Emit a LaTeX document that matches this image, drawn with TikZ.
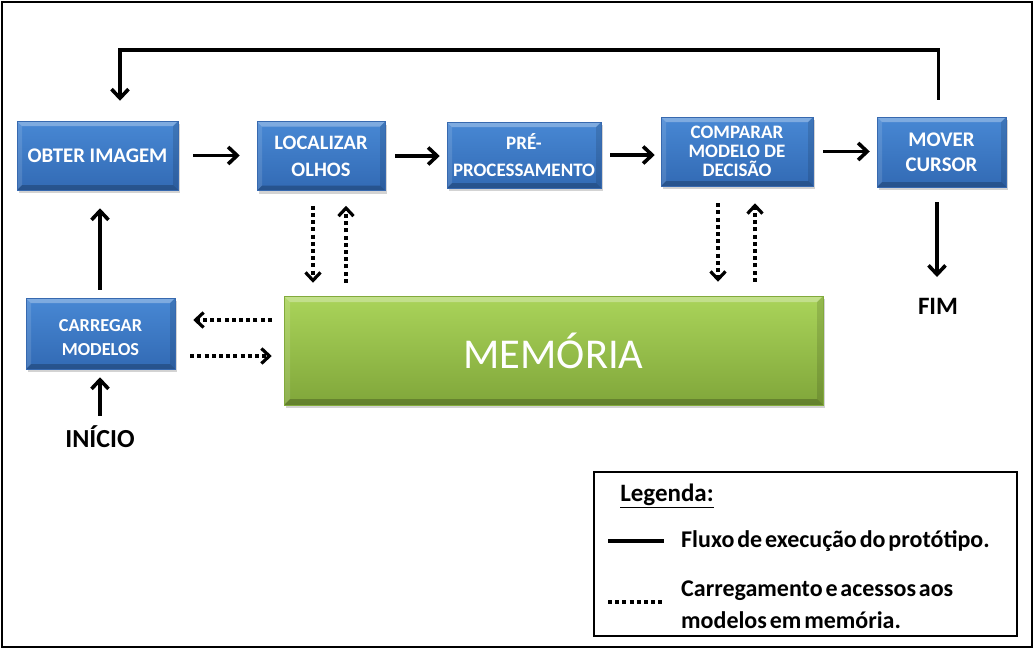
\documentclass[tikz,border=0pt]{standalone}
\usepackage{fontspec}
\setmainfont{Carlito}
\usetikzlibrary{arrows.meta,shadows,calc}
\definecolor{bluetop}{RGB}{72,136,212}
\definecolor{bluebot}{RGB}{50,106,180}
\definecolor{blueedge}{RGB}{55,105,175}
\definecolor{greentop}{RGB}{170,212,90}
\definecolor{greenbot}{RGB}{128,166,58}
\definecolor{greenedge}{RGB}{130,170,60}
\newcommand\tightsp{\spaceskip=0.12em\relax}
\tikzset{
  bevel/.style={path picture={
    \coordinate (bnw) at (path picture bounding box.north west);
    \coordinate (bne) at (path picture bounding box.north east);
    \coordinate (bsw) at (path picture bounding box.south west);
    \coordinate (bse) at (path picture bounding box.south east);
    \fill[white, opacity=0.30] (bnw) -- (bne) -- ($(bne)+(-#1,-#1)$) -- ($(bnw)+(#1,-#1)$) -- cycle;
    \fill[white, opacity=0.12] (bnw) -- ($(bnw)+(#1,-#1)$) -- ($(bsw)+(#1,#1)$) -- (bsw) -- cycle;
    \fill[black, opacity=0.12] (bne) -- ($(bne)+(-#1,-#1)$) -- ($(bse)+(-#1,#1)$) -- (bse) -- cycle;
    \fill[black, opacity=0.22] (bsw) -- ($(bsw)+(#1,#1)$) -- ($(bse)+(-#1,#1)$) -- (bse) -- cycle;
  }},
  bluebox/.style={rectangle, draw=blueedge, line width=0.5pt, top color=bluetop, bottom color=bluebot,
    text=white, align=center, inner sep=0pt, bevel=5pt,
    drop shadow={shadow xshift=2pt, shadow yshift=-3pt, opacity=0.35}},
  greenbox/.style={rectangle, draw=greenedge, line width=0.5pt, top color=greentop, bottom color=greenbot,
    text=white, align=center, inner sep=0pt, bevel=6pt,
    drop shadow={shadow xshift=2pt, shadow yshift=-3pt, opacity=0.35}},
  boxtext/.style={text=white, align=center, inner sep=0pt},
  flow/.style={line width=3.6pt, -{Straight Barb[length=9pt,width=17pt,line width=3.6pt]}},
  memflow/.style={line width=3.6pt, dash pattern=on 4pt off 3.2pt, -{Straight Barb[length=8pt,width=15pt,line width=3.2pt]}},
  plain/.style={font=\bfseries, inner sep=0pt},
  legtext/.style={inner sep=0pt, anchor=west, align=left, font=\bfseries\fontsize{24}{32}\selectfont},
}
\begin{document}
\begin{tikzpicture}[x=1pt,y=-1pt]
\useasboundingbox (0,0) rectangle (1034,649);
\node[draw, line width=1.8pt, minimum width=1030pt, minimum height=645pt, inner sep=0pt] (frame) at (517,324.5) {};

% process boxes
\node[bluebox, minimum width=161pt, minimum height=69pt, font=\bfseries\fontsize{20.8}{25}\selectfont] (obter) at (97.5,155.5) {OBTER IMAGEM};
\node[bluebox, minimum width=128pt, minimum height=69pt, font=\bfseries\fontsize{20.5}{27}\selectfont] (loc) at (321,156) {LOCALIZAR\\OLHOS};
\node[bluebox, minimum width=154pt, minimum height=66pt, font=\bfseries\fontsize{19}{27}\selectfont] (pre) at (524,155) {PRÉ-\\PROCESSAMENTO};
\node[bluebox, minimum width=152pt, minimum height=69pt, font=\bfseries\fontsize{19}{19}\selectfont] (comp) at (737,151.5) {COMPARAR\\MODELO DE\\DECISÃO};
\node[bluebox, minimum width=129pt, minimum height=70pt, font=\bfseries\fontsize{20.8}{25}\selectfont] (mover) at (941.5,152) {MOVER\\CURSOR};
\node[bluebox, minimum width=149pt, minimum height=71pt] (carr) at (100.5,333.5) {};
\node[boxtext, font=\bfseries\fontsize{18.3}{24}\selectfont] (carrtext) at ($(carr.center)+(0,4.5)$) {CARREGAR\\MODELOS};
\node[greenbox, minimum width=539pt, minimum height=109pt, font=\fontsize{42.5}{44}\selectfont] (mem) at (553.5,350.5) {MEMÓRIA};

\node[plain, font=\bfseries\fontsize{25}{27}\selectfont] (fim) at (938,306) {FIM};
\node[plain, font=\bfseries\fontsize{26}{28}\selectfont] (inicio) at (100,437) {INÍCIO};

% main flow
\draw[flow, shorten <=15pt, shorten >=17pt] (obter.east) -- (obter.east -| loc.west);
\draw[flow, shorten <=10pt, shorten >=7pt] (loc.east) -- (loc.east -| pre.west);
\draw[flow, shorten <=9pt, shorten >=6pt] (pre.east) -- (pre.east -| comp.west);
\draw[flow, shorten <=10pt, shorten >=7pt] (comp.east) -- (comp.east -| mover.west);
\draw[flow, shorten <=17pt, shorten >=20pt] ([xshift=-3pt]mover.north) -- ++(0,-67) -| ([xshift=22.5pt]obter.north);
\draw[flow, shorten <=15pt, shorten >=29pt] ([xshift=-4.5pt]mover.south) -- ([xshift=-4.5pt]mover.south |- fim.center);
\draw[flow, shorten <=8pt, shorten >=18pt] ([xshift=-0.5pt]carr.north) -- ([xshift=-0.5pt]carr.north |- obter.south);
\draw[flow, shorten <=10pt, shorten >=8pt] (inicio.north) -- (inicio.north |- carr.south);

% memory accesses
\draw[memflow, shorten <=15pt, shorten >=13pt] ([xshift=-8pt]loc.south) -- ([xshift=-8pt]loc.south |- mem.north);
\draw[memflow, shorten <=13pt, shorten >=15pt] ([xshift=25pt]loc.south |- mem.north) -- ([xshift=25pt]loc.south);
\draw[memflow, shorten <=17pt, shorten >=14pt] ([xshift=-19pt]comp.south) -- ([xshift=-19pt]comp.south |- mem.north);
\draw[memflow, shorten <=14pt, shorten >=17pt] ([xshift=18pt]comp.south |- mem.north) -- ([xshift=18pt]comp.south);
\coordinate (r1) at (0,320);
\coordinate (r2) at (0,356);
\draw[memflow, shorten <=12pt, shorten >=18pt] (mem.west |- r1) -- (carr.east |- r1);
\draw[memflow, shorten <=15pt, shorten >=12pt] (carr.east |- r2) -- (mem.west |- r2);

% legend
\node[draw, line width=1.6pt, minimum width=423pt, minimum height=164pt, inner sep=0pt] (legend) at (805.5,554) {};
\node[plain, font=\bfseries\fontsize{25}{27}\selectfont] (legtitle) at (667,496) {\underline{Legenda:}};
\coordinate (s1a) at (608,541);
\coordinate (s1b) at (664,541);
\coordinate (s2a) at (608,602);
\coordinate (s2b) at (664,602);
\draw[line width=3.6pt] (s1a) -- (s1b);
\draw[line width=3.6pt, dash pattern=on 4pt off 3.2pt] (s2a) -- (s2b);
\node[legtext] (leg1) at (681,541) {\tightsp Fluxo de execução do protótipo.};
\node[legtext] (leg2) at (681,605) {\tightsp Carregamento e acessos aos\\\tightsp modelos em memória.};
\end{tikzpicture}
\end{document}
